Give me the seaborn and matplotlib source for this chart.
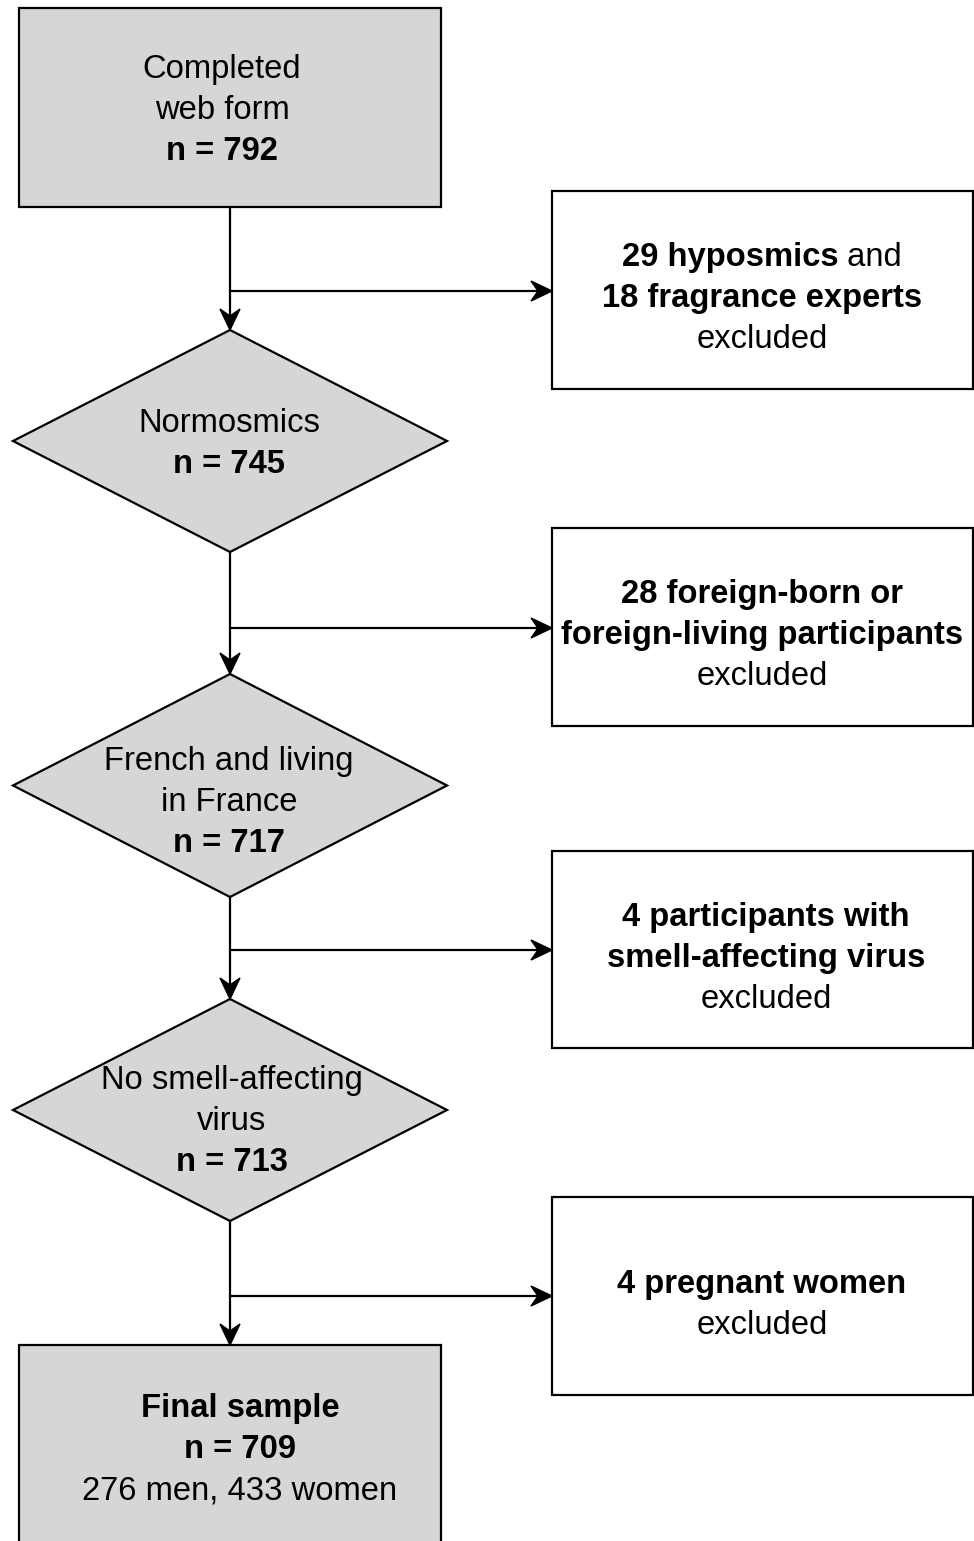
import matplotlib
matplotlib.use("Agg")
import matplotlib.pyplot as plt
import seaborn as sns
from matplotlib.patches import Rectangle, Polygon

sns.set_style("white")
plt.rcParams['font.family'] = ['Liberation Sans', 'DejaVu Sans']
plt.rcParams['text.color'] = 'black'

# flow stages (main column)
stage_titles = [["Completed", "web form"],
                ["Normosmics"],
                ["French and living", "in France"],
                ["No smell-affecting", "virus"],
                ["Final sample"]]
stage_counts = [792, 745, 717, 713, 709]
final_split = "276 men, 433 women"

# exclusion boxes: each line is a list of (text, bold) pieces
excl_lines = [
    [[("29 hyposmics", True), (" and", False)],
     [("18 fragrance experts", True)],
     [("excluded", False)]],
    [[("28 foreign-born or", True)],
     [("foreign-living participants", True)],
     [("excluded", False)]],
    [[("4 participants with", True)],
     [("smell-affecting virus", True)],
     [("excluded", False)]],
    [[("4 pregnant women", True)],
     [("excluded", False)]],
]

GRAY = "#d5d7d6"
LW = 1.6
FS = 23.6
LINE = 41

fig = plt.figure(figsize=(9.74, 15.41), dpi=100)
ax = fig.add_axes([0, 0, 1, 1])
ax.set_xlim(0, 974)
ax.set_ylim(1541, 0)
ax.axis("off")
renderer = fig.canvas.get_renderer()


def arrow_head(tip, direction):
    x, y = tip
    L, W, N = 21, 10, 7
    if direction == "down":
        pts = [(x, y), (x - W, y - L), (x, y - L + N), (x + W, y - L)]
    else:
        pts = [(x, y), (x - L, y - W), (x - L + N, y), (x - L, y + W)]
    ax.add_patch(Polygon(pts, closed=True, fc="black", ec="black", lw=1, zorder=5))


def write_lines(lines, cx, cy):
    n = len(lines)
    for i, pieces in enumerate(lines):
        base = cy + (i - (n - 1) / 2) * LINE + 11
        texts = []
        for s, bold in pieces:
            t = ax.text(0, base, s, fontsize=FS, ha="left", va="baseline",
                        color="black",
                        fontweight="bold" if bold else "normal", zorder=6)
            texts.append(t)
        widths = [t.get_window_extent(renderer).width for t in texts]
        x = cx - sum(widths) / 2
        for t, w in zip(texts, widths):
            t.set_x(x)
            x += w


# main column shapes
col_x = 230
ax.add_patch(Rectangle((19, 8), 422, 199, fc=GRAY, ec="black", lw=LW))
diamonds = [(330, 552), (674, 897), (999, 1221)]
for top, bot in diamonds:
    mid = (top + bot) / 2
    ax.add_patch(Polygon([(col_x, top), (447, mid), (col_x, bot), (13, mid)],
                         closed=True, fc=GRAY, ec="black", lw=LW))
ax.add_patch(Rectangle((19, 1345), 422, 230, fc=GRAY, ec="black", lw=LW, clip_on=True))

# connectors
segments = [(207, 330), (552, 674), (897, 999), (1221, 1345)]
branch_y = [291, 628, 950, 1296]
for (y0, y1), by in zip(segments, branch_y):
    ax.plot([col_x, col_x], [y0, y1 - 10], color="black", lw=LW)
    arrow_head((col_x, y1), "down")
    ax.plot([col_x, 540], [by, by], color="black", lw=LW)
    arrow_head((552, by), "right")

# exclusion boxes
excl_boxes = [(191, 389), (528, 726), (851, 1048), (1197, 1395)]
excl_cx = [762, 762, 766, 762]
for (y0, y1), lines, cx in zip(excl_boxes, excl_lines, excl_cx):
    ax.add_patch(Rectangle((552, y0), 421, y1 - y0, fc="white", ec="black", lw=LW))
    write_lines(lines, cx, (y0 + y1) / 2 + 6)

# main column text
stage_cx = [222, 229, 229, 232, 240]
stage_cy = [108, 441, 800, 1119, 1447]
for k, (title, cnt) in enumerate(zip(stage_titles, stage_counts)):
    if k == 4:
        lines = [[(title[0], True)], [(f"n = {cnt}", True)], [(final_split, False)]]
    else:
        lines = [[(s, False)] for s in title] + [[(f"n = {cnt}", True)]]
    write_lines(lines, stage_cx[k], stage_cy[k])

fig.savefig("out.png", dpi=100, facecolor="white")
